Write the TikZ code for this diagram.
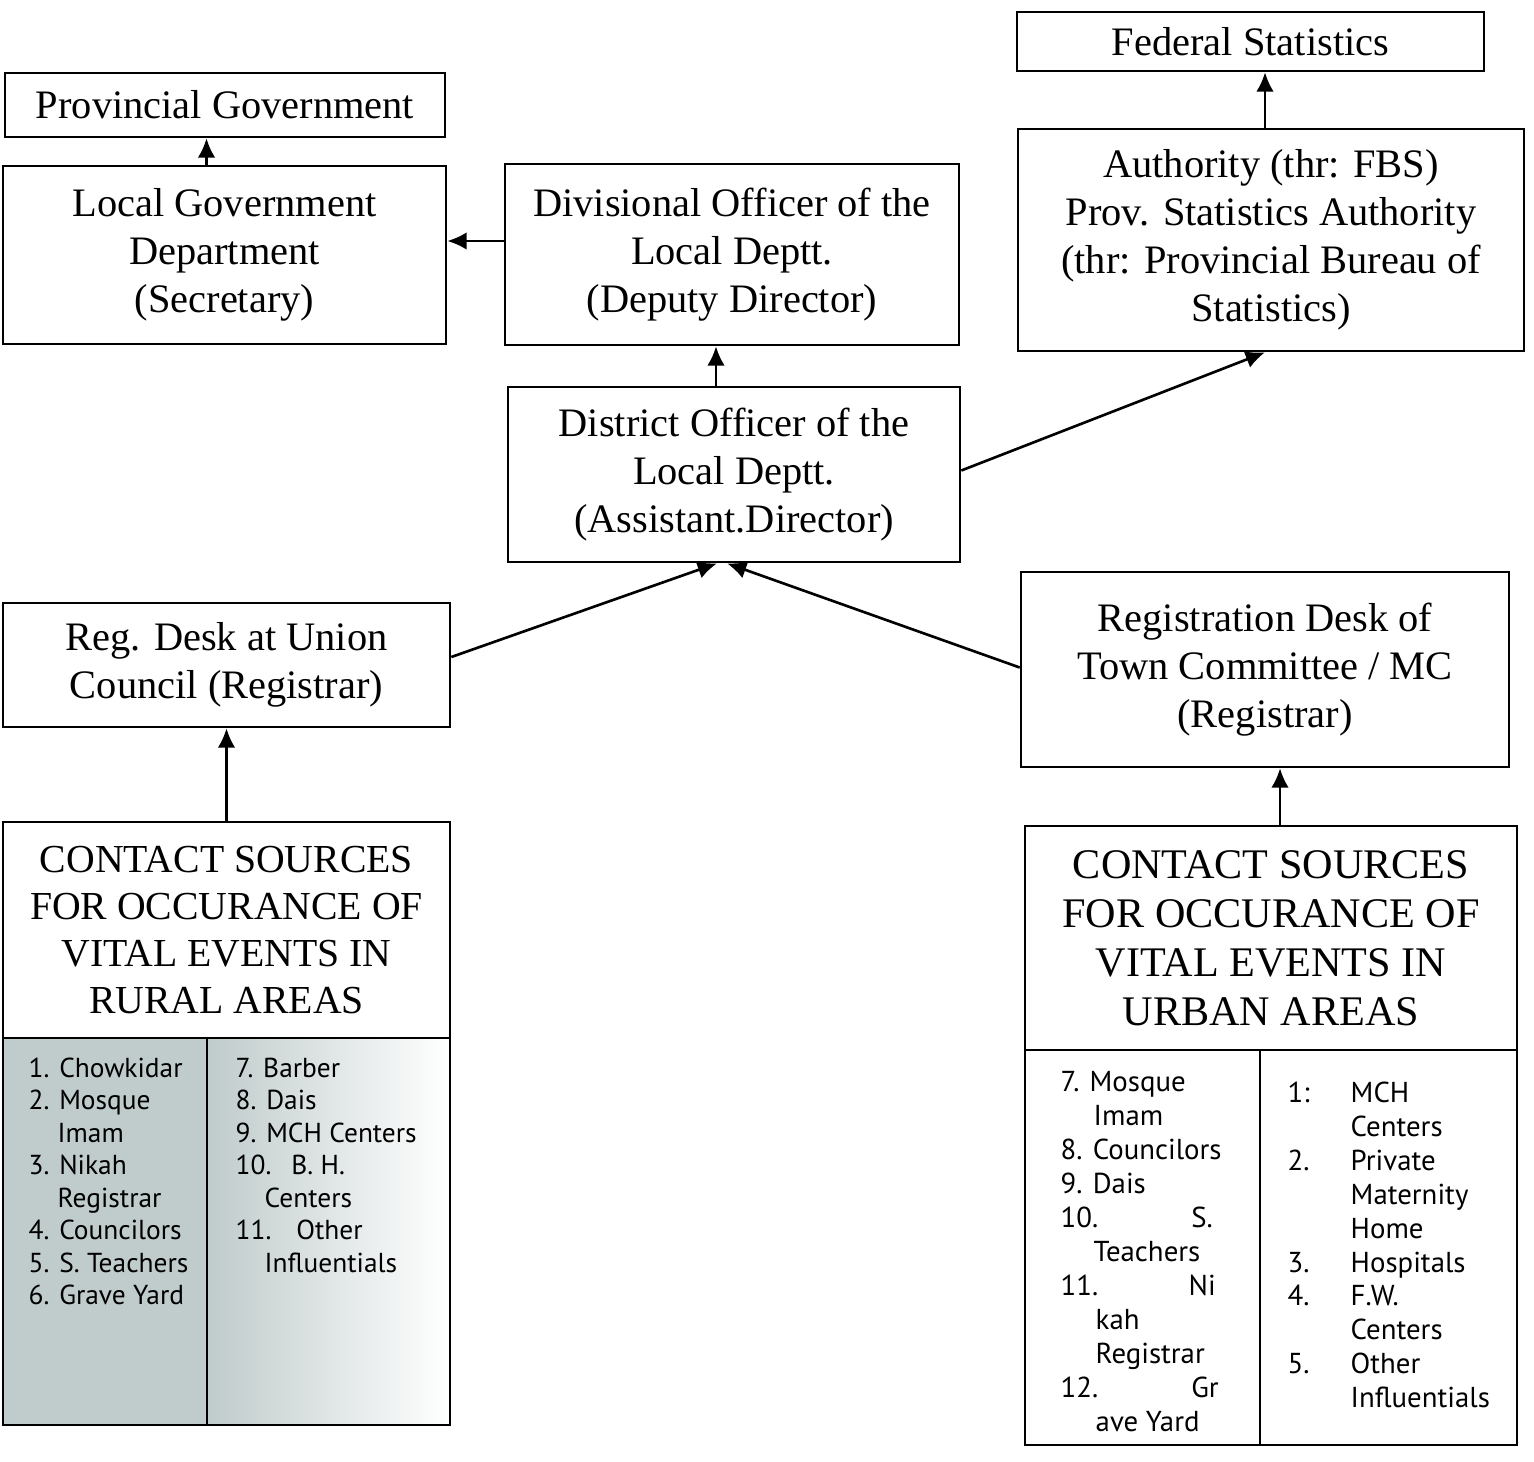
\documentclass[tikz,border=0pt]{standalone}
\usepackage{fontspec}
\setmainfont{Liberation Serif}
\newfontfamily\listfont{PT Sans}
\usepackage{tikz}
\usetikzlibrary{arrows.meta,positioning}
\definecolor{shadow}{RGB}{192, 203, 203}
\tikzstyle{box} = [rectangle, draw=black, line width=0.75pt, align=center, inner sep=2pt, font=\fontsize{11.5}{13.7}\selectfont]
\tikzstyle{cell} = [rectangle, draw=black, line width=0.75pt, anchor=north west, inner sep=0pt, outer sep=0pt]
\tikzstyle{listtext} = [anchor=north west, inner sep=0pt, align=left, font=\listfont\fontsize{7.8}{9.25}\selectfont]
\tikzstyle{tedge}  = [draw, line width=0.75pt, >={Latex[length=5.5pt,width=5pt]}, ->]
\newcommand{\ind}{\hspace*{0.29cm}}

\begin{document}
\begin{tikzpicture}[auto]
\useasboundingbox (0,0) rectangle (15.34,-14.61);

% offices =============================
\node[box, minimum width=4.40cm, minimum height=0.64cm] (prov) at (2.25,-1.05) {Provincial Government};
\node[box, minimum width=4.67cm, minimum height=0.59cm] (fedstat) at (12.505,-0.415) {Federal Statistics};
\node[box, minimum width=4.43cm, minimum height=1.78cm] (localgov) at (2.245,-2.55) {Local Government\\Department\\(Secretary)};
\node[box, minimum width=4.54cm, minimum height=1.81cm] (divoff) at (7.32,-2.545) {Divisional Officer of the\\Local Deptt.\\(Deputy Director)};
\node[box, minimum width=5.06cm, minimum height=2.22cm] (authority) at (12.71,-2.40) {Authority (thr: FBS)\\Prov. Statistics Authority\\(thr: Provincial Bureau of\\Statistics)};
\node[box, minimum width=4.52cm, minimum height=1.75cm] (distoff) at (7.34,-4.745) {District Officer of the\\Local Deptt.\\(Assistant.Director)};
\node[box, minimum width=4.47cm, minimum height=1.24cm] (uniondesk) at (2.265,-6.65) {Reg. Desk at Union\\Council (Registrar)};
\node[box, minimum width=4.88cm, minimum height=1.95cm] (towndesk) at (12.65,-6.695) {Registration Desk of\\Town Committee / MC\\(Registrar)};

% contact sources, rural
\node[box, outer sep=0pt, minimum width=4.47cm, minimum height=2.16cm, font=\fontsize{11.3}{13.4}\selectfont] (ruralhead) at (2.265,-9.30) {CONTACT SOURCES\\FOR OCCURANCE OF\\VITAL EVENTS IN\\RURAL AREAS};
\node[cell, fill=shadow, minimum width=2.04cm, minimum height=3.87cm] (rurala) at (ruralhead.south west) {};
\node[cell, left color=shadow, right color=white, minimum width=2.43cm, minimum height=3.87cm] (ruralb) at (rurala.north east) {};
\node[listtext] (rurallista) at ([xshift=0.25cm, yshift=-0.19cm]rurala.north west)
  {1. Chowkidar\\2. Mosque\\\ind Imam\\3. Nikah\\\ind Registrar\\4. Councilors\\5. S. Teachers\\6. Grave Yard};
\node[listtext] (rurallistb) at ([xshift=0.28cm, yshift=-0.19cm]ruralb.north west)
  {7. Barber\\8. Dais\\9. MCH Centers\\10.\hspace{0.2cm}B. H.\\\ind Centers\\11.\hspace{0.25cm}Other\\\ind Influentials};

% contact sources, urban
\node[box, outer sep=0pt, minimum width=4.92cm, minimum height=2.24cm, font=\fontsize{12}{13.9}\selectfont] (urbanhead) at (12.71,-9.38) {CONTACT SOURCES\\FOR OCCURANCE OF\\VITAL EVENTS IN\\URBAN AREAS};
\node[cell, minimum width=2.35cm, minimum height=3.95cm] (urbana) at (urbanhead.south west) {};
\node[cell, minimum width=2.57cm, minimum height=3.95cm] (urbanb) at (urbana.north east) {};
\node[listtext, font=\listfont\fontsize{8.2}{9.65}\selectfont] (urbanlista) at ([xshift=0.35cm, yshift=-0.21cm]urbana.north west)
  {7. Mosque\\\hspace*{0.33cm}Imam\\8. Councilors\\9. Dais\\\makebox[1.52cm][l]{10.\hfill S.}\\\hspace*{0.33cm}Teachers\\\makebox[1.55cm][l]{11.\hfill Ni}\\\hspace*{0.35cm}kah\\\hspace*{0.35cm}Registrar\\\makebox[1.58cm][l]{12.\hfill Gr}\\\hspace*{0.35cm}ave Yard};
\node[listtext, font=\listfont\fontsize{8.2}{9.65}\selectfont] (urbanlistb) at ([xshift=0.27cm, yshift=-0.28cm]urbanb.north west)
  {\begin{tabular}{@{}p{0.63cm}@{}l@{}}
   1: & MCH\\ & Centers\\
   2. & Private\\ & Maternity\\ & Home\\
   3. & Hospitals\\
   4. & F.W.\\ & Centers\\
   5. & Other\\ & Influentials
   \end{tabular}};

% edges
\path[tedge] ([xshift=-0.18cm]localgov.north) -- ([xshift=-0.18cm]localgov.north |- prov.south);
\path[tedge] ([yshift=0.135cm]divoff.west) -- ([yshift=0.135cm]divoff.west -| localgov.east);
\path[tedge] ([xshift=-0.06cm]authority.north) -- ([xshift=-0.06cm]authority.north |- fedstat.south);
\path[tedge] ([xshift=-0.18cm]distoff.north) -- ([xshift=-0.18cm]distoff.north |- divoff.south);
\path[tedge] ([yshift=0.04cm]distoff.east) -- ([xshift=-0.06cm]authority.south);
\path[tedge] ([yshift=0.08cm]uniondesk.east) -- ([xshift=-0.17cm]distoff.south);
\path[tedge] ([yshift=0.02cm]towndesk.west) -- ([xshift=-0.07cm]distoff.south);
\path[tedge] (ruralhead.north) -- (ruralhead.north |- uniondesk.south);
\path[tedge] ([xshift=0.15cm]towndesk.south |- urbanhead.north) -- ([xshift=0.15cm]towndesk.south);

\end{tikzpicture}
\end{document}
